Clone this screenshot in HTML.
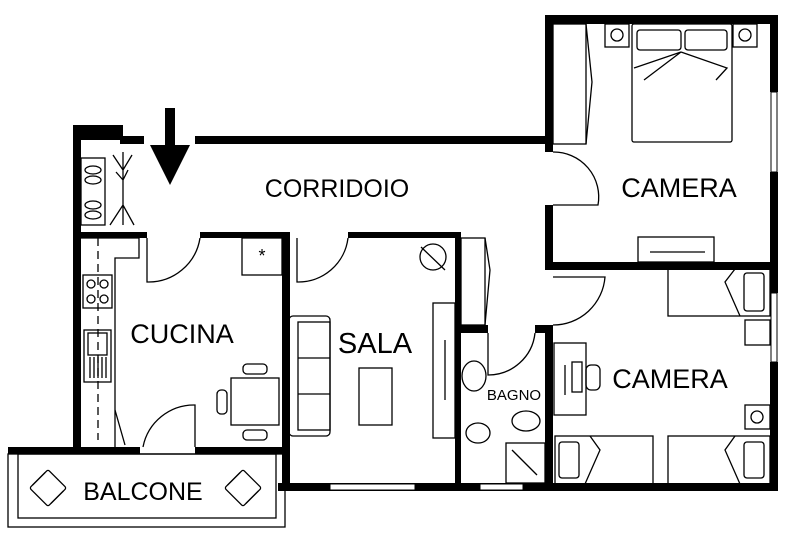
<!DOCTYPE html>
<html><head><meta charset="utf-8"><style>
html,body{margin:0;padding:0;background:#fff;}
svg{display:block;}
text{font-family:"Liberation Sans",sans-serif;fill:#000;}
</style></head><body>
<svg width="800" height="540" viewBox="0 0 800 540" xmlns="http://www.w3.org/2000/svg">
<rect width="800" height="540" fill="#fff"/>
<g fill="#000">
<rect x="73" y="125" width="50" height="15"/>
<rect x="73" y="125" width="8" height="325"/>
<rect x="120" y="136" width="24" height="8"/>
<rect x="195" y="136" width="358" height="8"/>
<rect x="545" y="15" width="233" height="9"/>
<rect x="545" y="15" width="8" height="137"/>
<rect x="545" y="205" width="8" height="65"/>
<rect x="770" y="15" width="8" height="77"/>
<rect x="770" y="172" width="8" height="98"/>
<rect x="553" y="262" width="225" height="8"/>
<rect x="545" y="325" width="8" height="166"/>
<rect x="770" y="262" width="8" height="31"/>
<rect x="770" y="362" width="8" height="129"/>
<rect x="278" y="483" width="500" height="8"/>
<rect x="81" y="232" width="66" height="6"/>
<rect x="200" y="232" width="90" height="6"/>
<rect x="282" y="232" width="8" height="259"/>
<rect x="8" y="447" width="132" height="7"/>
<rect x="195" y="447" width="95" height="7"/>
<rect x="348" y="232" width="113" height="6"/>
<rect x="455" y="232" width="6" height="259"/>
<rect x="461" y="325" width="27" height="8"/>
<rect x="535" y="325" width="18" height="8"/>
</g>
<g fill="#fff" stroke="#000" stroke-width="1">
<rect x="771" y="92" width="6" height="80"/>
<rect x="771" y="293" width="6" height="69"/>
<rect x="330" y="484" width="85" height="6"/>
<rect x="480" y="484" width="43" height="6"/>
</g>
<g fill="none" stroke="#000" stroke-width="1.3">
<rect x="8" y="454" width="277" height="73"/>
<rect x="18" y="454" width="258" height="64"/>
<!-- balcony chairs -->
<g transform="translate(48,488) rotate(45)"><rect x="-13" y="-13" width="26" height="26" rx="2"/><path d="M-13 -9 V9 M13 -9 V9"/></g>
<g transform="translate(243,488) rotate(45)"><rect x="-13" y="-13" width="26" height="26" rx="2"/><path d="M-13 -9 V9 M13 -9 V9"/></g>
<!-- doors -->
<path d="M553 205 H598 A45 45 0 0 0 553 152"/>
<path d="M553 277 H605 A52 52 0 0 1 553 325"/>
<path d="M147 238 V282 A52 52 0 0 0 200 238"/>
<path d="M297 238 V282 A50 50 0 0 0 348 238"/>
<path d="M488 333 V375 A47 47 0 0 0 535 333"/>
<path d="M195 447 V405 A52 52 0 0 0 143 447"/>
<path d="M81 238 H139 V258 H115 V447"/>
<path d="M98 238 V440" stroke-dasharray="8,5"/>
<rect x="83" y="275" width="29" height="33"/>
<circle cx="91" cy="284" r="4"/><circle cx="104" cy="284" r="4"/><circle cx="91" cy="299" r="4"/><circle cx="104" cy="299" r="4"/>
<rect x="84" y="330" width="27" height="52"/>
<rect x="88" y="333" width="19" height="22"/>
<path d="M90 357 V378 M94 357 V378 M98 357 V378 M102 357 V378 M106 357 V378"/>
<path d="M115 410 L125 445"/>
<rect x="242" y="238" width="40" height="37"/>
<text x="262" y="262" font-size="18" text-anchor="middle" stroke="none">*</text>
<rect x="231" y="378" width="48" height="47"/>
<rect x="243" y="364" width="24" height="10" rx="4"/>
<rect x="243" y="430" width="24" height="10" rx="4"/>
<rect x="217" y="390" width="10" height="24" rx="4"/>
<rect x="81" y="158" width="24" height="67"/>
<ellipse cx="93" cy="170" rx="8" ry="4"/><ellipse cx="93" cy="180" rx="8" ry="4"/><ellipse cx="93" cy="205" rx="8" ry="4"/><ellipse cx="93" cy="215" rx="8" ry="4"/>
<path d="M123 152 V225 M110 225 L123 205 L134 225 M113 155 L123 170 L132 155 M116 172 L123 180 L128 170"/>
<rect x="289" y="316" width="41" height="120" rx="4"/>
<rect x="298" y="322" width="32" height="108"/>
<path d="M298 358 H330 M298 394 H330"/>
<rect x="359" y="368" width="33" height="57"/>
<rect x="433" y="303" width="22" height="135"/>
<path d="M445 340 V400"/>
<circle cx="433" cy="257" r="13"/><path d="M421 247 L445 270"/>
<rect x="461" y="238" width="24" height="87"/>
<path d="M485 238 L490 270 L485 325"/>
<rect x="553" y="24" width="33" height="120"/>
<path d="M586 24 L592 82 L586 144"/>
<rect x="632" y="24" width="100" height="118" rx="2"/>
<rect x="637" y="30" width="44" height="20" rx="3"/><rect x="685" y="30" width="42" height="20" rx="3"/>
<path d="M634 68 L681 52 L644 80 M681 52 L727 68 L716 80"/>
<rect x="605" y="24" width="24" height="23"/><circle cx="617" cy="35" r="6"/>
<rect x="733" y="24" width="24" height="23"/><circle cx="745" cy="35" r="6"/>
<rect x="638" y="237" width="76" height="25"/><path d="M650 252 H705"/>
<rect x="668" y="269" width="102" height="47"/><rect x="744" y="273" width="20" height="38" rx="3"/><path d="M735 269 L725 282 L740 316"/>
<rect x="555" y="436" width="98" height="48"/><rect x="559" y="442" width="20" height="36" rx="3"/><path d="M590 436 L600 450 L585 484"/>
<rect x="668" y="436" width="102" height="48"/><rect x="744" y="442" width="20" height="36" rx="3"/><path d="M735 436 L725 450 L740 484"/>
<rect x="745" y="320" width="25" height="25"/>
<rect x="745" y="405" width="25" height="24"/><circle cx="757" cy="417" r="6"/>
<rect x="554" y="343" width="32" height="72"/>
<rect x="572" y="362" width="10" height="30"/>
<path d="M565 365 V395"/>
<rect x="586" y="365" width="14" height="25" rx="5"/>
<ellipse cx="474" cy="376" rx="12" ry="15"/>
<ellipse cx="478" cy="433" rx="12" ry="10"/>
<ellipse cx="526" cy="421" rx="14" ry="10"/>
<rect x="506" y="443" width="39" height="40"/><path d="M512 450 L537 475"/>
</g>
<rect x="165" y="108" width="10" height="42" fill="#000"/>
<polygon points="150,145 190,145 170,185" fill="#000"/>
<text x="337" y="197" font-size="25" text-anchor="middle">CORRIDOIO</text>
<text x="679" y="197" font-size="27" text-anchor="middle">CAMERA</text>
<text x="182" y="343" font-size="27" text-anchor="middle">CUCINA</text>
<text x="375" y="353" font-size="29" text-anchor="middle">SALA</text>
<text x="514" y="400" font-size="15" text-anchor="middle">BAGNO</text>
<text x="670" y="388" font-size="27" text-anchor="middle">CAMERA</text>
<text x="143" y="500" font-size="25" text-anchor="middle">BALCONE</text>
</svg>
</body></html>
